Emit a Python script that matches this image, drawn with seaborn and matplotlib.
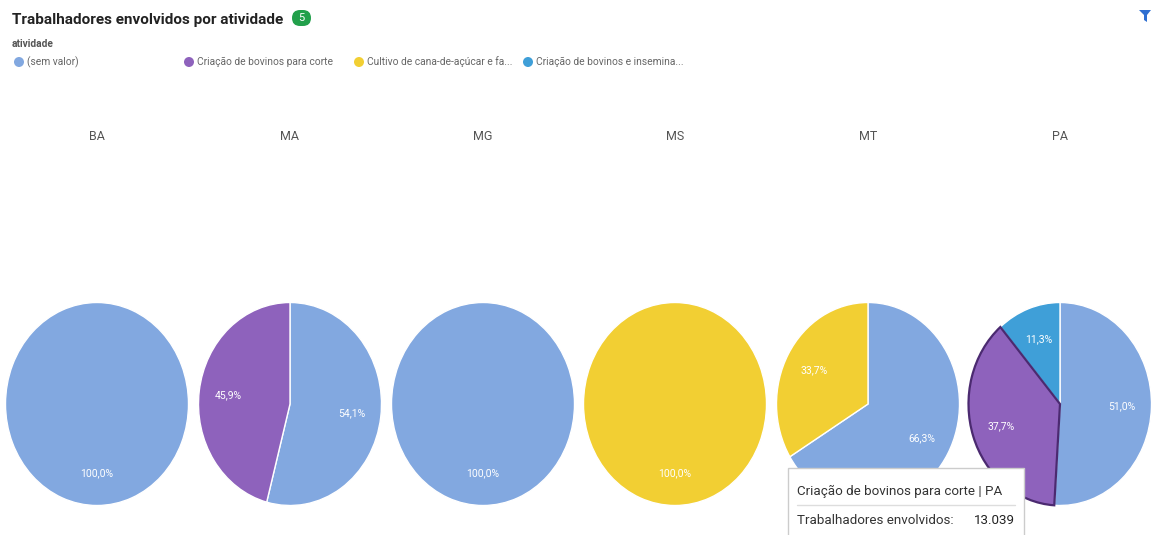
import matplotlib
matplotlib.use("Agg")
import matplotlib.pyplot as plt
import seaborn as sns
from matplotlib.patches import Rectangle, FancyBboxPatch, Circle, Polygon

sns.set_theme(style="white")
plt.rcParams['font.family'] = ['Roboto', 'DejaVu Sans']

# ---- data ----
categories = ["(sem valor)", "Criação de bovinos para corte",
              "Cultivo de cana-de-açúcar e fa...", "Criação de bovinos e insemina..."]
states = ["BA", "MA", "MG", "MS", "MT", "PA"]
sem_valor = [100.0, 54.1, 100.0, 0.0, 66.3, 51.0]
bovinos_corte = [0.0, 45.9, 0.0, 0.0, 0.0, 37.7]
cana = [0.0, 0.0, 0.0, 100.0, 33.7, 0.0]
bovinos_insem = [0.0, 0.0, 0.0, 0.0, 0.0, 11.3]
tooltip_title = "Criação de bovinos para corte | PA"
tooltip_label = "Trabalhadores envolvidos:"
tooltip_value = "13.039"

colors = ["#82a8e0", "#8e62bc", "#f2cf33", "#3f9fd8"]
series = [sem_valor, bovinos_corte, cana, bovinos_insem]

W, H = 1151, 535
fig = plt.figure(figsize=(W / 100, H / 100), dpi=100)
fig.patch.set_facecolor("white")

centers_x = [97, 290, 483, 675, 868, 1060]
cy = 404
pw, ph = 183, 203

for i, st in enumerate(states):
    cx = centers_x[i]
    ax = fig.add_axes([(cx - pw / 2) / W, (H - cy - ph / 2) / H, pw / W, ph / H])
    vals, cols, cats = [], [], []
    for s, c, cat in zip(series, colors, categories):
        if s[i] > 0:
            vals.append(s[i]); cols.append(c); cats.append(cat)
    wedges, texts, autotexts = ax.pie(
        vals, colors=cols, startangle=90, counterclock=False,
        autopct=lambda p: f"{p:.1f}%".replace(".", ","), pctdistance=0.68,
        wedgeprops=dict(edgecolor="white", linewidth=1.0),
        textprops=dict(color="white", fontsize=7.5))
    for w in wedges:
        w.set_clip_on(False)
    if st == "PA":
        idx = cats.index("Criação de bovinos para corte")
        wedges[idx].set_edgecolor("#4b2a70")
        wedges[idx].set_linewidth(1.6)
        wedges[idx].set_zorder(3)
    ax.set_xlim(-1, 1)
    ax.set_ylim(-1, 1)
    ax.set_aspect("auto")
    ax.axis("off")

# overlay axes in pixel coordinates
ov = fig.add_axes([0, 0, 1, 1], zorder=10)
ov.set_xlim(0, W)
ov.set_ylim(H, 0)
ov.axis("off")
ov.patch.set_alpha(0)

ov.text(12, 20, "Trabalhadores envolvidos por atividade", fontsize=11,
        fontweight="bold", color="#222222", va="center", ha="left")
ov.add_patch(FancyBboxPatch((292, 10), 19, 16, boxstyle="round,pad=0,rounding_size=8",
                            facecolor="#22a04b", edgecolor="none"))
ov.text(301.5, 18, "5", fontsize=8, color="white", ha="center", va="center")

ov.text(12, 44, "atividade", fontsize=7.3, fontweight="bold", color="#555555",
        va="center", ha="left")
leg_x = [19, 189, 359, 528]
for x, c, cat in zip(leg_x, colors, categories):
    ov.add_patch(Circle((x, 62), 5, facecolor=c, edgecolor="none"))
    ov.text(x + 8, 62, cat, fontsize=7.4, color="#666666", va="center", ha="left")

for cx, st in zip(centers_x, states):
    ov.text(cx, 137, st, fontsize=9, color="#555555", ha="center", va="center")

# filter icon
ov.add_patch(Polygon([[1139, 10], [1151, 10], [1147, 15], [1147, 22], [1144, 20], [1144, 15]],
                     closed=True, facecolor="#2f6fd1", edgecolor="none"))

# tooltip
ov.add_patch(Rectangle((788, 468), 236, 70, facecolor="white", edgecolor="#cccccc",
                       linewidth=1.0))
ov.text(797, 491, tooltip_title, fontsize=9.6, color="#333333", va="center", ha="left")
ov.plot([797, 1015], [505, 505], color="#dddddd", linewidth=1.0)
ov.text(797, 521, tooltip_label, fontsize=9.6, color="#333333", va="center", ha="left")
ov.text(1015, 521, tooltip_value, fontsize=9.6, color="#222222", va="center", ha="right")

fig.savefig("out.png", dpi=100)
